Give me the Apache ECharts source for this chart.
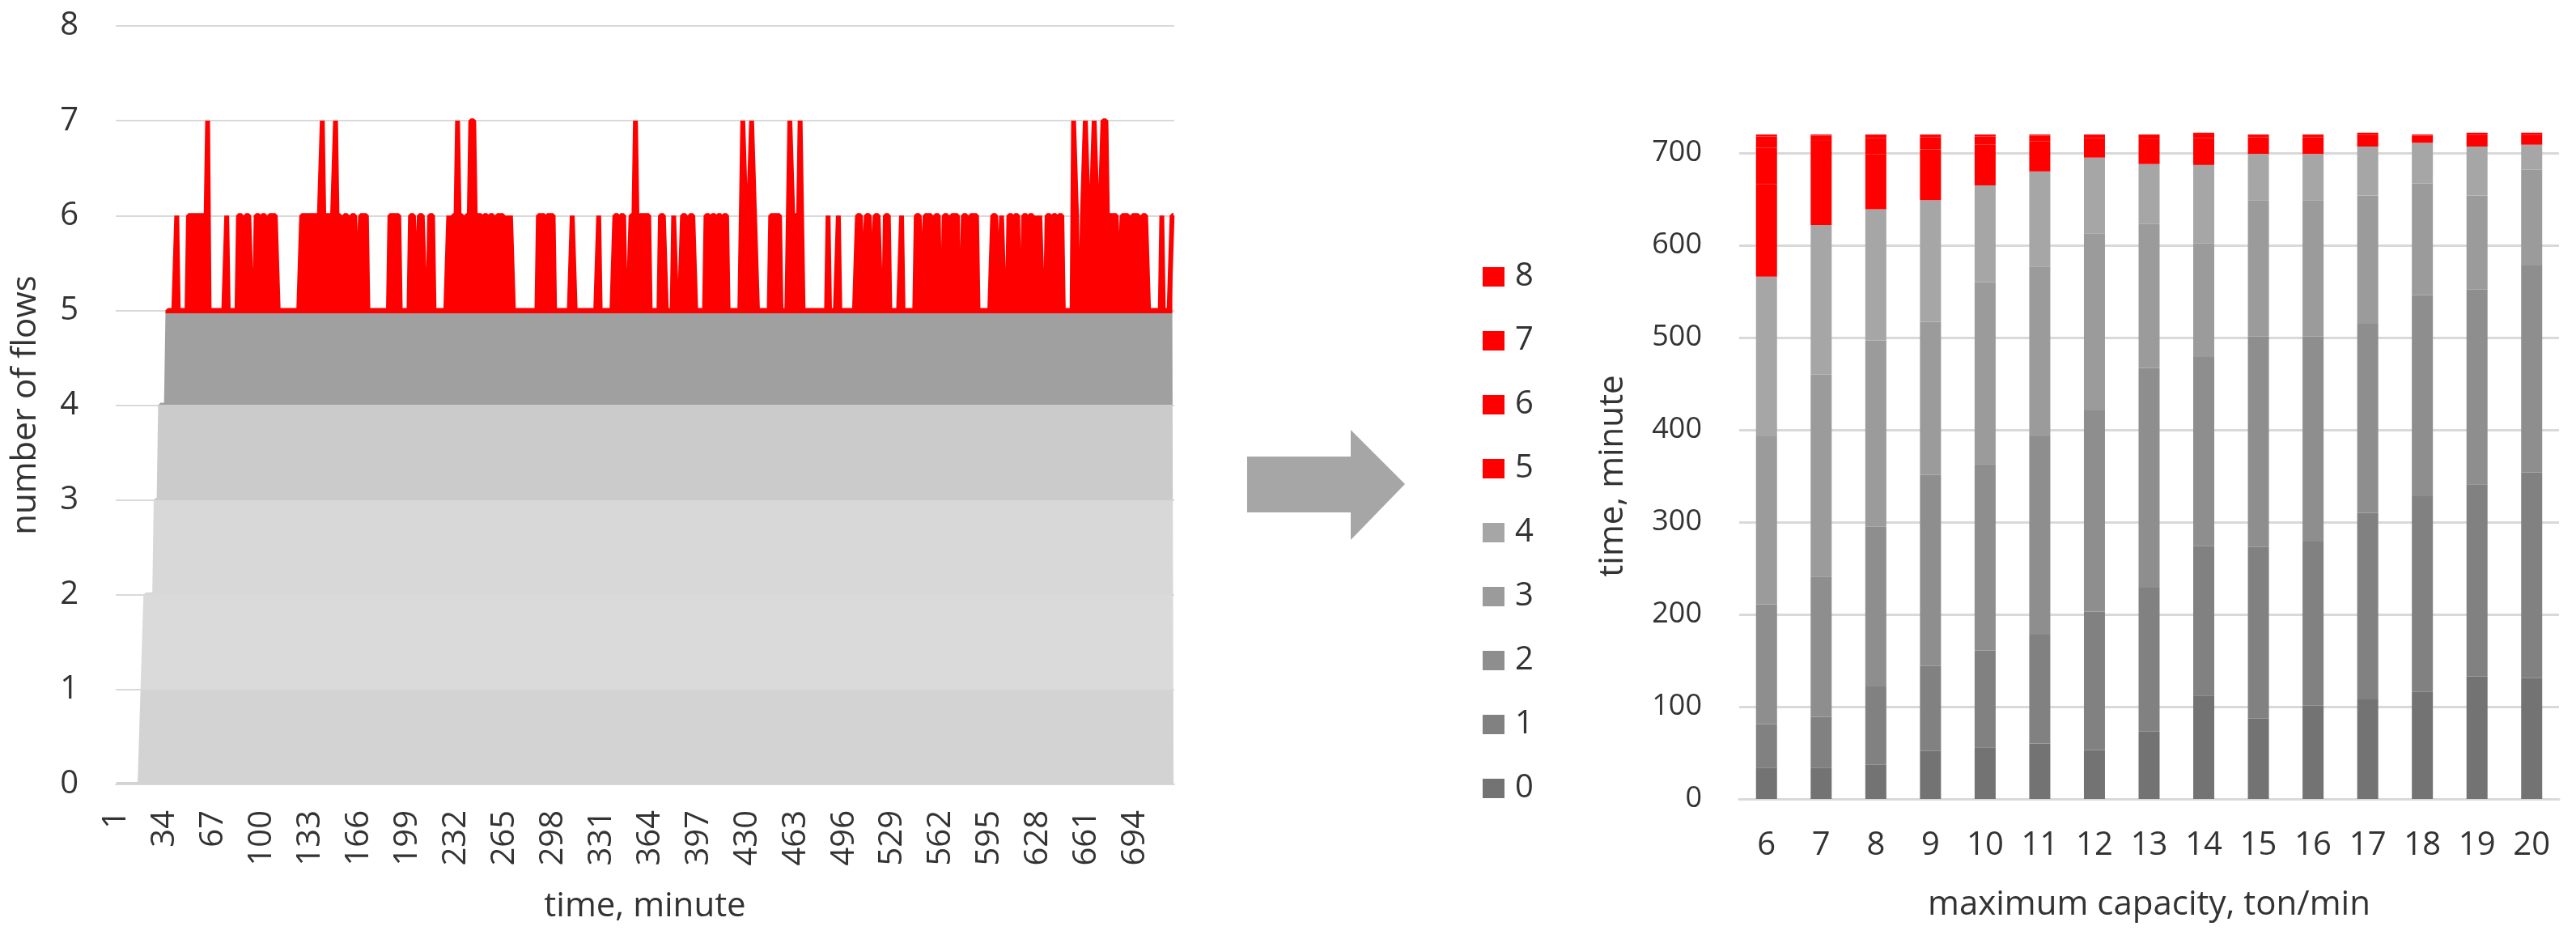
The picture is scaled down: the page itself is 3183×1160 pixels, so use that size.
<!DOCTYPE html>
<html>
<head>
<meta charset="utf-8">
<script src="https://cdn.jsdelivr.net/npm/echarts@6/dist/echarts.min.js"></script>
<style>
html, body { margin: 0; padding: 0; background: #fff; }
#main { width: 3183px; height: 1160px; }
</style>
</head>
<body>
<div id="main"></div>
<script>
// left chart: number of flows per minute, written as [value, minutes] runs
var flowRuns = [
  [0,18],[1,2],[2,7],[3,3],[4,5],[5,6],[6,1],[5,7],[6,13],[7,1],[5,12],[6,1],[5,7],[6,4],[5,1],[6,4],
  [5,3],[6,3],[5,1],[6,4],[5,1],[6,6],[5,16],[6,14],[7,1],[6,8],[7,1],[6,4],[5,1],[6,4],[5,1],[6,4],
  [5,2],[6,5],[5,15],[6,7],[5,7],[6,4],[5,2],[6,4],[5,3],[6,3],[5,10],[6,2],[5,1],[6,3],[7,1],[6,4],
  [5,1],[6,3],[7,3],[6,5],[5,1],[6,3],[5,1],[6,3],[5,2],[6,5],[5,1],[6,2],[5,1],[6,2],[5,17],[6,5],
  [5,1],[6,5],[5,12],[6,2],[5,16],[6,1],[5,10],[6,3],[5,1],[6,3],[5,4],[6,3],[7,1],[6,1],[5,1],[6,7],
  [5,7],[6,4],[5,5],[6,2],[5,4],[6,4],[5,1],[6,4],[5,7],[6,3],[5,1],[6,3],[5,1],[6,3],[5,1],[6,3],
  [5,10],[7,2],[6,4],[7,2],[6,2],[5,9],[6,7],[5,6],[7,2],[6,5],[7,2],[5,17],[6,1],[5,6],[6,1],[5,12],
  [6,4],[5,2],[6,4],[5,2],[6,4],[5,3],[6,3],[5,8],[6,1],[5,9],[6,4],[5,2],[6,5],[5,2],[6,3],[5,3],
  [6,4],[5,1],[6,5],[5,3],[6,4],[5,1],[6,5],[5,10],[6,4],[5,2],[6,2],[5,3],[6,3],[5,1],[6,3],[5,3],
  [6,3],[5,1],[6,3],[5,1],[6,2],[5,1],[6,2],[5,3],[6,3],[5,1],[6,3],[5,1],[6,3],[5,7],[7,2],[6,1],
  [5,3],[6,2],[7,2],[6,4],[7,2],[6,4],[7,3],[6,8],[5,2],[6,6],[5,1],[6,5],[5,2],[6,4],[5,9],[6,1],
  [5,6],[6,2]
];

// right chart: minutes spent with n flows, per maximum capacity
var capacities = ['6','7','8','9','10','11','12','13','14','15','16','17','18','19','20'];
var time0 = [34, 34, 37, 52, 56, 60, 53, 73, 112, 87, 101, 108, 116, 133, 131];
var time1 = [47, 55, 85, 92, 105, 118, 150, 156, 162, 186, 178, 202, 212, 208, 223];
var time2 = [130, 152, 173, 207, 202, 215, 218, 238, 205, 228, 222, 205, 218, 211, 224];
var time3 = [182, 219, 202, 166, 197, 184, 192, 156, 123, 148, 148, 139, 121, 102, 104];
var time4 = [173, 162, 142, 132, 105, 103, 82, 65, 85, 50, 50, 53, 44, 53, 27];
var time5 = [100, 70, 60, 55, 44, 33, 21, 27, 29, 18, 18, 13, 8, 13, 11];
var time6 = [40, 22, 17, 13, 9, 6, 4, 5, 5, 3, 3, 2, 1, 2, 2];
var time7 = [12, 5, 4, 3, 2, 1, 0, 0, 1, 0, 0, 0, 0, 0, 0];
var time8 = [2, 1, 0, 0, 0, 0, 0, 0, 0, 0, 0, 0, 0, 0, 0];
var levelNames = ['0', '1', '2', '3', '4', '5', '6', '7', '8'];
var levelColors = ['#737373', '#818181', '#8e8e8e', '#9b9b9b', '#a6a6a6', '#ff0000', '#ff0000', '#ff0000', '#ff0000'];

var flows = [];
flowRuns.forEach(function (r) {
  for (var k = 0; k < r[1]; k++) flows.push(r[0]);
});
var minutes = flows.map(function (v, i) { return String(i + 1); });

var font = 'Open Sans';
var txt = '#333333';
var grid = '#d9d9d9';

var chart = echarts.init(document.getElementById('main'));

var levels = [time0, time1, time2, time3, time4, time5, time6, time7, time8];
var barSeries = levels.map(function (d, i) {
  return {
    name: levelNames[i],
    type: 'bar',
    stack: 'total',
    xAxisIndex: 1,
    yAxisIndex: 1,
    barWidth: 26,
    clip: false,
    itemStyle: { color: levelColors[i] },
    data: d
  };
});

var option = {
  animation: false,
  textStyle: { fontFamily: font },
  grid: [
    { left: 143, top: 32, width: 1308, height: 937 },
    { left: 2149, top: 189, width: 1013, height: 798 }
  ],
  xAxis: [
    {
      type: 'category', gridIndex: 0, data: minutes, boundaryGap: true,
      axisTick: { show: false },
      axisLine: { lineStyle: { color: grid, width: 2 } },
      axisLabel: { interval: 32, rotate: 90, fontSize: 40, margin: 32, color: txt, fontFamily: font },
      name: 'time, minute', nameLocation: 'middle', nameGap: 130,
      nameTextStyle: { fontSize: 42, color: txt, fontFamily: font }
    },
    {
      type: 'category', gridIndex: 1, data: capacities,
      axisTick: { show: false },
      axisLine: { lineStyle: { color: grid, width: 3 } },
      axisLabel: { fontSize: 40, margin: 38, color: txt, fontFamily: font },
      name: 'maximum capacity, ton/min', nameLocation: 'middle', nameGap: 110,
      nameTextStyle: { fontSize: 42, color: txt, fontFamily: font }
    }
  ],
  yAxis: [
    {
      type: 'value', gridIndex: 0, min: 0, max: 8, interval: 1,
      axisLine: { show: false }, axisTick: { show: false },
      splitLine: { lineStyle: { color: grid, width: 2 } },
      axisLabel: { fontSize: 40, margin: 46, color: txt, fontFamily: font },
      name: 'number of flows', nameLocation: 'middle', nameGap: 90,
      nameTextStyle: { fontSize: 42, color: txt, fontFamily: font }
    },
    {
      type: 'value', gridIndex: 1, min: 0, max: 700, interval: 100,
      axisLine: { show: false }, axisTick: { show: false },
      splitLine: { lineStyle: { color: grid, width: 3 } },
      axisLabel: { fontSize: 36, margin: 46, color: txt, fontFamily: font },
      name: 'time, minute', nameLocation: 'middle', nameGap: 135,
      nameTextStyle: { fontSize: 42, color: txt, fontFamily: font }
    }
  ],
  visualMap: {
    type: 'piecewise', show: false, seriesIndex: 0,
    pieces: [
      { gte: 0, lt: 1, color: '#d3d3d3' },
      { gte: 1, lt: 2, color: '#dadada' },
      { gte: 2, lt: 3, color: '#d8d8d8' },
      { gte: 3, lt: 4, color: '#cbcbcb' },
      { gte: 4, lt: 4.965, color: '#a0a0a0' },
      { gte: 4.965, lte: 9, color: '#ff0000' }
    ]
  },
  legend: {
    data: ['8', '7', '6', '5', '4', '3', '2', '1', '0'],
    orient: 'vertical', left: 1827, top: 317,
    itemWidth: 27, itemHeight: 24, itemGap: 39, icon: 'rect',
    textStyle: { fontSize: 40, lineHeight: 40, color: txt, fontFamily: font, padding: [0, 0, 0, 8] }
  },
  graphic: [{
    type: 'polygon',
    shape: { points: [[1541, 564], [1669, 564], [1669, 531], [1736, 598], [1669, 667], [1669, 633], [1541, 633]] },
    style: { fill: '#a6a6a6' }
  }],
  series: [{
    name: 'flows',
    type: 'line',
    xAxisIndex: 0,
    yAxisIndex: 0,
    data: flows,
    symbol: 'none',
    lineStyle: { width: 6 },
    areaStyle: { opacity: 1 }
  }].concat(barSeries)
};

chart.setOption(option);
</script>
</body>
</html>
